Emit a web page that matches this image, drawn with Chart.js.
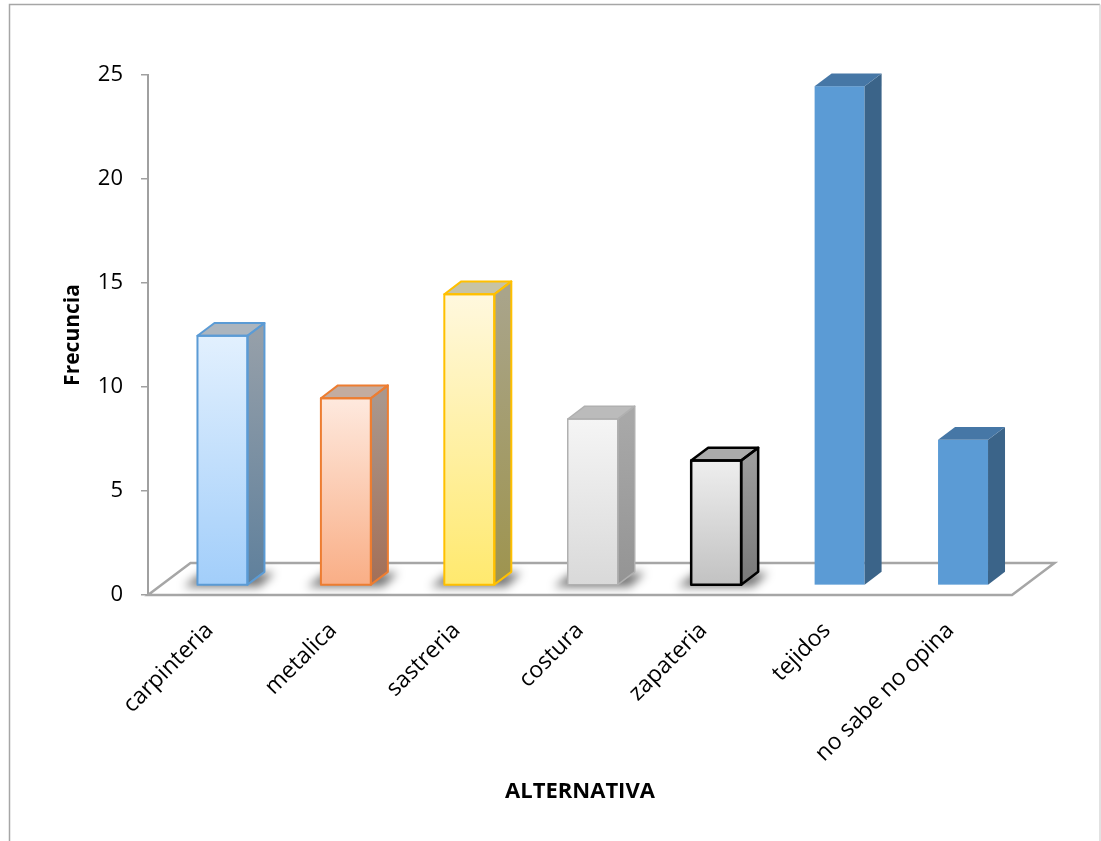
<!DOCTYPE html>
<html>
<head>
<meta charset="utf-8">
<script src="https://cdn.jsdelivr.net/npm/chart.js"></script>
<style>
  html, body { margin: 0; padding: 0; background: #fff; overflow: hidden; }
  #wrap { width: 1101px; height: 841px; position: relative; }
</style>
</head>
<body>
<div id="wrap"><canvas id="grafico"></canvas></div>
<script>
// datos
const categorias = ['carpinteria', 'metalica', 'sastreria', 'costura', 'zapateria', 'tejidos', 'no sabe no opina'];
const frecuencias = [12, 9, 14, 8, 6, 24, 7];
const yMin = 0;
const yMax = 25;
const yPaso = 5;

// estilo de cada barra (frente, lado, tapa, borde)
const estilos = [
  { frente: ['#e2f0fe', '#a2cefa'], lado: ['#959fa9', '#5f809c'], tapa: '#acb5be', borde: '#5b9bd5', ancho: 2, sombra: true },
  { frente: ['#fee9de', '#f9ae86'], lado: ['#a9978d', '#a36f57'], tapa: '#c3aca0', borde: '#ed7d31', ancho: 2, sombra: true },
  { frente: ['#fff8de', '#ffe96e'], lado: ['#a9a48a', '#9e944e'], tapa: '#c7c3a5', borde: '#ffc000', ancho: 2, sombra: true },
  { frente: ['#f5f5f5', '#d9d9d9'], lado: ['#a8a8a8', '#949494'], tapa: '#bbbbbb', borde: '#b0b0b0', ancho: 1.5, sombra: true },
  { frente: ['#eeeeee', '#c2c2c2'], lado: ['#9c9c9c', '#787878'], tapa: '#ababab', borde: '#000000', ancho: 2.5, sombra: true },
  { frente: ['#5b9bd5', '#5b9bd5'], lado: ['#3b6489', '#3b6489'], tapa: '#4677a6', borde: null, ancho: 0, sombra: false },
  { frente: ['#5b9bd5', '#5b9bd5'], lado: ['#3b6489', '#3b6489'], tapa: '#4677a6', borde: null, ancho: 0, sombra: false }
];

// profundidad del piso 3D y posicion de las barras dentro de el
const piso3d = { dx: 42.5, dy: -32 };
const barraInicio = 0.3;
const barraFondo = 0.4;

Chart.defaults.font.family = "'Open Sans', sans-serif";
Chart.defaults.color = '#000';

const piso = {
  id: 'piso',
  beforeDatasetsDraw(chart) {
    const { ctx, chartArea: a } = chart;
    ctx.save();
    ctx.beginPath();
    ctx.moveTo(a.left, a.bottom);
    ctx.lineTo(a.right, a.bottom);
    ctx.lineTo(a.right + piso3d.dx, a.bottom + piso3d.dy);
    ctx.lineTo(a.left + piso3d.dx, a.bottom + piso3d.dy);
    ctx.closePath();
    ctx.fillStyle = '#fff';
    ctx.fill();
    ctx.strokeStyle = '#a6a6a6';
    ctx.lineWidth = 2.5;
    ctx.lineJoin = 'miter';
    ctx.stroke();
    ctx.restore();
  }
};

function poligono(ctx, pts) {
  ctx.beginPath();
  ctx.moveTo(pts[0][0], pts[0][1]);
  for (let k = 1; k < pts.length; k++) ctx.lineTo(pts[k][0], pts[k][1]);
  ctx.closePath();
}

const barras3d = {
  id: 'barras3d',
  afterDatasetsDraw(chart) {
    const ctx = chart.ctx;
    const meta = chart.getDatasetMeta(0);
    const ox = piso3d.dx * barraInicio, oy = piso3d.dy * barraInicio;
    const sx = piso3d.dx * barraFondo, sy = piso3d.dy * barraFondo;

    meta.data.forEach((el, i) => {
      const s = estilos[i];
      const L = el.x - el.width / 2 + ox;
      const R = L + el.width;
      const T = el.y + oy;
      const B = el.base + oy;

      ctx.save();
      // sombra difusa sobre el piso
      if (s.sombra) {
        ctx.save();
        ctx.filter = 'blur(5px)';
        poligono(ctx, [[L - 14, B + 2], [R + 12, B + 2], [R + sx + 10, B + sy + 1], [L + sx - 12, B + sy + 1]]);
        ctx.fillStyle = 'rgba(0,0,0,0.55)';
        ctx.fill();
        ctx.restore();
      }

      // frente
      let g = ctx.createLinearGradient(0, T, 0, B);
      g.addColorStop(0, s.frente[0]);
      g.addColorStop(1, s.frente[1]);
      ctx.fillStyle = g;
      ctx.fillRect(L, T, R - L, B - T);

      // lado
      g = ctx.createLinearGradient(0, T, 0, B);
      g.addColorStop(0, s.lado[0]);
      g.addColorStop(1, s.lado[1]);
      poligono(ctx, [[R, T], [R + sx, T + sy], [R + sx, B + sy], [R, B]]);
      ctx.fillStyle = g;
      ctx.fill();

      // tapa
      poligono(ctx, [[L, T], [L + sx, T + sy], [R + sx, T + sy], [R, T]]);
      ctx.fillStyle = s.tapa;
      ctx.fill();

      if (s.borde) {
        ctx.strokeStyle = s.borde;
        ctx.lineWidth = s.ancho;
        ctx.lineJoin = 'round';
        ctx.strokeRect(L, T, R - L, B - T);
        poligono(ctx, [[R, T], [R + sx, T + sy], [R + sx, B + sy], [R, B]]);
        ctx.stroke();
        poligono(ctx, [[L, T], [L + sx, T + sy], [R + sx, T + sy], [R, T]]);
        ctx.stroke();
      }
      ctx.restore();
    });
  }
};

const marco = {
  id: 'marco',
  afterDraw(chart) {
    const ctx = chart.ctx;
    ctx.save();
    ctx.lineWidth = 1.5;
    ctx.strokeStyle = '#a6a6a6';
    ctx.beginPath();
    ctx.moveTo(9.5, 841);
    ctx.lineTo(9.5, 4.5);
    ctx.lineTo(1100, 4.5);
    ctx.stroke();
    ctx.strokeStyle = '#d9d9d9';
    ctx.beginPath();
    ctx.moveTo(1100, 4.5);
    ctx.lineTo(1100, 841);
    ctx.stroke();
    ctx.restore();
  }
};

new Chart(document.getElementById('grafico'), {
  type: 'bar',
  data: {
    labels: categorias,
    datasets: [{
      label: 'Frecuncia',
      data: frecuencias,
      backgroundColor: 'rgba(0,0,0,0)',
      borderWidth: 0,
      categoryPercentage: 1,
      barPercentage: 0.405
    }]
  },
  options: {
    responsive: true,
    maintainAspectRatio: false,
    animation: false,
    layout: { padding: { left: 0, top: 75, right: 89, bottom: 0 } },
    plugins: {
      legend: { display: false },
      tooltip: { enabled: false }
    },
    scales: {
      x: {
        afterFit(scale) { scale.height = 246; },
        grid: { display: false, drawTicks: false },
        border: { display: false },
        ticks: {
          autoSkip: false,
          maxRotation: 45,
          minRotation: 45,
          padding: 22,
          font: { size: 23 },
          color: '#000'
        },
        title: {
          display: true,
          text: 'ALTERNATIVA',
          font: { size: 22, weight: 'bold' },
          color: '#000',
          padding: { top: 0, bottom: 36 }
        }
      },
      y: {
        min: yMin,
        max: yMax,
        afterFit(scale) { scale.width = 148; },
        grid: {
          drawOnChartArea: false,
          drawTicks: true,
          tickLength: 7,
          color: '#a0a0a0',
          lineWidth: 1.5
        },
        border: { display: true, color: '#a0a0a0', width: 2 },
        ticks: {
          stepSize: yPaso,
          padding: 18,
          font: { size: 22 },
          color: '#000'
        },
        title: {
          display: true,
          text: 'Frecuncia',
          font: { size: 21, weight: 'bold' },
          color: '#000',
          padding: { top: 60, bottom: 0 }
        }
      }
    }
  },
  plugins: [piso, barras3d, marco]
});
</script>
</body>
</html>
